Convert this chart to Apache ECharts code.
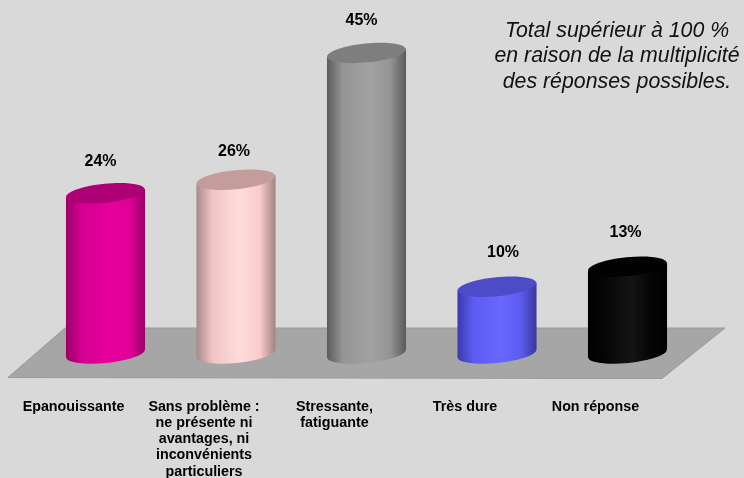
<!DOCTYPE html>
<html>
<head>
<meta charset="utf-8">
<style>html,body{margin:0;padding:0;background:#d9d9d9}#c{width:744px;height:478px;filter:blur(0.45px)}</style>
<script src="https://cdn.jsdelivr.net/npm/echarts@6/dist/echarts.min.js"></script>
</head>
<body>
<div id="c"></div>
<script>
const categories = ['Epanouissante', 'Sans problème :\nne présente ni\navantages, ni\ninconvénients\nparticuliers', 'Stressante,\nfatiguante', 'Très dure', 'Non réponse'];
const values = [24, 26, 45, 10, 13];
const noteLines = 'Total supérieur à 100 %\nen raison de la multiplicité\ndes réponses possibles.';
// per-bar styling: side gradient (edge, mid, centre, mid, edge) and lid colour
const sideStops = [
  ['#9c0068', '#d40090', '#e6009a', '#e0009a', '#980066'],
  ['#a58a8a', '#f2c4c4', '#ffdcdc', '#fccaca', '#9f8484'],
  ['#5c5c5c', '#959595', '#a2a2a2', '#949494', '#5a5a5a'],
  ['#3a3ab0', '#5c5cf0', '#6868ff', '#5c5cee', '#38389c'],
  ['#000000', '#050505', '#141414', '#050505', '#000000']
];
const lidColors = ['#ad0075', '#c59c9c', '#7e7e7e', '#4c4cc8', '#020202'];
const labelNudge = [-5, -2, -5, 6, -2];
const labelLift = [32, 28, 32, 34, 34];

const chart = echarts.init(document.getElementById('c'));
const FONT = '"Liberation Sans", Arial, sans-serif';
const TILT = 0.1;

function grad(i) {
  const s = sideStops[i];
  return new echarts.graphic.LinearGradient(0, 0, 1, 0, [
    {offset: 0, color: s[0]}, {offset: 0.2, color: s[1]}, {offset: 0.55, color: s[2]},
    {offset: 0.8, color: s[3]}, {offset: 1, color: s[4]}
  ]);
}

function renderCyl(params, api) {
  const i = params.dataIndex;
  const top = api.coord([api.value(0), api.value(1)]);
  const base = api.coord([api.value(0), 0]);
  const a = api.size([1, 0])[0] * 0.303;
  const b = 9.5;
  const dy = a * TILT;
  const x = top[0];
  const ell = (cy, fill) => ({
    type: 'ellipse',
    shape: {cx: x, cy: cy, rx: a, ry: b},
    originX: x, originY: cy, rotation: TILT,
    style: {fill: fill}
  });
  return {
    type: 'group',
    children: [
      ell(base[1], grad(i)),
      {
        type: 'polygon',
        shape: {points: [[x - a, top[1] + dy], [x + a, top[1] - dy], [x + a, base[1] - dy], [x - a, base[1] + dy]]},
        style: {fill: grad(i)}
      },
      ell(top[1], lidColors[i]),
      {
        type: 'text',
        style: {
          x: x + labelNudge[i], y: top[1] - labelLift[i],
          text: api.value(1) + '%', font: 'bold 16px ' + FONT, fill: '#000',
          align: 'center', verticalAlign: 'middle'
        }
      }
    ]
  };
}

chart.setOption({
  animation: false,
  backgroundColor: '#d9d9d9',
  grid: {left: 40.25, width: 652.5, top: 19.5, height: 334, outerBoundsMode: 'none'},
  xAxis: {
    type: 'category', data: categories,
    axisLine: {show: false}, axisTick: {show: false},
    axisLabel: {
      interval: 0, margin: 45, fontFamily: 'Liberation Sans', fontWeight: 'bold', fontSize: 14.3,
      color: '#000', lineHeight: 16.3, padding: [0, 64, 0, 0], verticalAlign: 'top'
    }
  },
  yAxis: {type: 'value', min: 0, max: 50, show: false, splitLine: {show: false}},
  graphic: [
    {
      type: 'polygon', z: 0,
      shape: {points: [[8, 377.5], [65, 328], [725, 328], [662, 378.5]]},
      style: {fill: '#a6a6a6', stroke: '#9a9a9a', lineWidth: 1}
    },
    {
      type: 'text', z: 5, x: 617, y: 18,
      style: {
        text: noteLines, font: 'italic 21.3px ' + FONT, fill: '#111',
        align: 'center', lineHeight: 25.5
      }
    }
  ],
  series: [{
    type: 'custom', renderItem: renderCyl, z: 3,
    encode: {x: 0, y: 1},
    data: values.map((v, i) => [i, v])
  }]
});
</script>
</body>
</html>
